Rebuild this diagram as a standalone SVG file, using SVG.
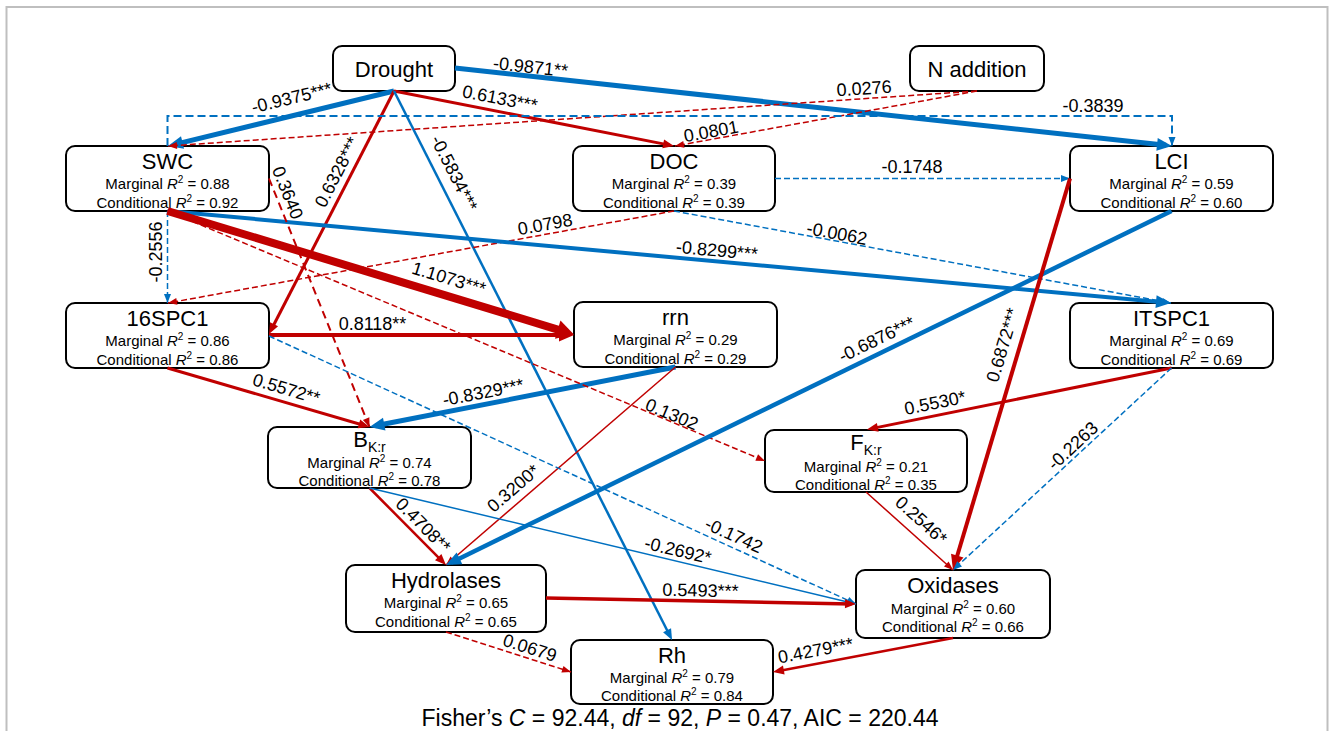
<svg xmlns="http://www.w3.org/2000/svg" width="1330" height="731" viewBox="0 0 1330 731">
<style>
text{font-family:"Liberation Sans",Arial,sans-serif;fill:#000}
.nd rect{fill:#fff;stroke:#000;stroke-width:2}
.t{font-size:22px;text-anchor:middle}
.r2{font-size:15px;text-anchor:middle}
.i{font-style:italic}
.sp{font-size:10px}
.sb{font-size:14px}
.lab{font-size:18px;text-anchor:middle}
.r{stroke:#C00000;fill:none}
.b{stroke:#0070C0;fill:none}
.d{stroke-dasharray:6 3}
</style>
<defs>
<marker id="rS" markerUnits="userSpaceOnUse" markerWidth="9" markerHeight="7" refX="9" refY="3.5" orient="auto" overflow="visible"><path d="M0,0L9,3.5L0,7z" fill="#C00000"/></marker>
<marker id="rM" markerUnits="userSpaceOnUse" markerWidth="11" markerHeight="9" refX="6.5" refY="4.5" orient="auto" overflow="visible"><path d="M0,0L11,4.5L0,9z" fill="#C00000"/></marker>
<marker id="rL" markerUnits="userSpaceOnUse" markerWidth="15" markerHeight="13" refX="9" refY="6.5" orient="auto" overflow="visible"><path d="M0,0L15,6.5L0,13z" fill="#C00000"/></marker>
<marker id="rXL" markerUnits="userSpaceOnUse" markerWidth="17" markerHeight="19" refX="9.5" refY="9.5" orient="auto" overflow="visible"><path d="M0,0L17,9.5L0,19z" fill="#C00000"/></marker>
<marker id="bS" markerUnits="userSpaceOnUse" markerWidth="9" markerHeight="7" refX="9" refY="3.5" orient="auto" overflow="visible"><path d="M0,0L9,3.5L0,7z" fill="#0070C0"/></marker>
<marker id="bM" markerUnits="userSpaceOnUse" markerWidth="11" markerHeight="9" refX="6.5" refY="4.5" orient="auto" overflow="visible"><path d="M0,0L11,4.5L0,9z" fill="#0070C0"/></marker>
<marker id="bL" markerUnits="userSpaceOnUse" markerWidth="15" markerHeight="13" refX="9" refY="6.5" orient="auto" overflow="visible"><path d="M0,0L15,6.5L0,13z" fill="#0070C0"/></marker>
</defs>
<rect x="0" y="0" width="1330" height="731" fill="#fff"/>
<rect x="6.5" y="7" width="1321" height="760" fill="none" stroke="#bfbfbf" stroke-width="2"/>

<g id="n-drought" class="nd"><rect x="333" y="46" width="122" height="45" rx="9"/><text class="t" x="394" y="77">Drought</text></g>
<g id="n-naddition" class="nd"><rect x="910" y="46" width="134" height="45" rx="9"/><text class="t" x="977" y="77">N addition</text></g>
<g id="n-swc" class="nd"><rect x="66" y="146" width="203" height="65" rx="9"/><text class="t" x="167.5" y="169">SWC</text>
<text class="r2" x="167.5" y="188.5">Marginal <tspan class="i">R</tspan><tspan class="sp" dy="-6">2</tspan><tspan dy="6"> = 0.88</tspan></text>
<text class="r2" x="167.5" y="207.5">Conditional <tspan class="i">R</tspan><tspan class="sp" dy="-6">2</tspan><tspan dy="6"> = 0.92</tspan></text></g>
<g id="n-doc" class="nd"><rect x="573" y="146" width="202" height="65" rx="9"/><text class="t" x="674" y="169">DOC</text>
<text class="r2" x="674" y="188.5">Marginal <tspan class="i">R</tspan><tspan class="sp" dy="-6">2</tspan><tspan dy="6"> = 0.39</tspan></text>
<text class="r2" x="674" y="207.5">Conditional <tspan class="i">R</tspan><tspan class="sp" dy="-6">2</tspan><tspan dy="6"> = 0.39</tspan></text></g>
<g id="n-lci" class="nd"><rect x="1070" y="146" width="203" height="65" rx="9"/><text class="t" x="1171.5" y="169">LCI</text>
<text class="r2" x="1171.5" y="188.5">Marginal <tspan class="i">R</tspan><tspan class="sp" dy="-6">2</tspan><tspan dy="6"> = 0.59</tspan></text>
<text class="r2" x="1171.5" y="207.5">Conditional <tspan class="i">R</tspan><tspan class="sp" dy="-6">2</tspan><tspan dy="6"> = 0.60</tspan></text></g>
<g id="n-16spc1" class="nd"><rect x="66" y="303" width="203" height="65" rx="9"/><text class="t" x="167.5" y="326">16SPC1</text>
<text class="r2" x="167.5" y="345.5">Marginal <tspan class="i">R</tspan><tspan class="sp" dy="-6">2</tspan><tspan dy="6"> = 0.86</tspan></text>
<text class="r2" x="167.5" y="364.5">Conditional <tspan class="i">R</tspan><tspan class="sp" dy="-6">2</tspan><tspan dy="6"> = 0.86</tspan></text></g>
<g id="n-rrn" class="nd"><rect x="574" y="302" width="203" height="65" rx="9"/><text class="t" x="675.5" y="325">rrn</text>
<text class="r2" x="675.5" y="344.5">Marginal <tspan class="i">R</tspan><tspan class="sp" dy="-6">2</tspan><tspan dy="6"> = 0.29</tspan></text>
<text class="r2" x="675.5" y="363.5">Conditional <tspan class="i">R</tspan><tspan class="sp" dy="-6">2</tspan><tspan dy="6"> = 0.29</tspan></text></g>
<g id="n-itspc1" class="nd"><rect x="1070" y="303" width="203" height="65" rx="9"/><text class="t" x="1171.5" y="326">ITSPC1</text>
<text class="r2" x="1171.5" y="345.5">Marginal <tspan class="i">R</tspan><tspan class="sp" dy="-6">2</tspan><tspan dy="6"> = 0.69</tspan></text>
<text class="r2" x="1171.5" y="364.5">Conditional <tspan class="i">R</tspan><tspan class="sp" dy="-6">2</tspan><tspan dy="6"> = 0.69</tspan></text></g>
<g id="n-bkr" class="nd"><rect x="268" y="427" width="203" height="61" rx="9"/><text class="t" x="369.5" y="447">B<tspan class="sb" dy="5">K:r</tspan></text>
<text class="r2" x="369.5" y="468">Marginal <tspan class="i">R</tspan><tspan class="sp" dy="-6">2</tspan><tspan dy="6"> = 0.74</tspan></text>
<text class="r2" x="369.5" y="486">Conditional <tspan class="i">R</tspan><tspan class="sp" dy="-6">2</tspan><tspan dy="6"> = 0.78</tspan></text></g>
<g id="n-fkr" class="nd"><rect x="765" y="430" width="202" height="62" rx="9"/><text class="t" x="866" y="450">F<tspan class="sb" dy="5">K:r</tspan></text>
<text class="r2" x="866" y="471.5">Marginal <tspan class="i">R</tspan><tspan class="sp" dy="-6">2</tspan><tspan dy="6"> = 0.21</tspan></text>
<text class="r2" x="866" y="489.5">Conditional <tspan class="i">R</tspan><tspan class="sp" dy="-6">2</tspan><tspan dy="6"> = 0.35</tspan></text></g>
<g id="n-hydrolases" class="nd"><rect x="346" y="565" width="200" height="67" rx="9"/><text class="t" x="446" y="588">Hydrolases</text>
<text class="r2" x="446" y="608">Marginal <tspan class="i">R</tspan><tspan class="sp" dy="-6">2</tspan><tspan dy="6"> = 0.65</tspan></text>
<text class="r2" x="446" y="627">Conditional <tspan class="i">R</tspan><tspan class="sp" dy="-6">2</tspan><tspan dy="6"> = 0.65</tspan></text></g>
<g id="n-oxidases" class="nd"><rect x="856" y="570" width="194" height="68" rx="9"/><text class="t" x="953" y="593">Oxidases</text>
<text class="r2" x="953" y="613.5">Marginal <tspan class="i">R</tspan><tspan class="sp" dy="-6">2</tspan><tspan dy="6"> = 0.60</tspan></text>
<text class="r2" x="953" y="632">Conditional <tspan class="i">R</tspan><tspan class="sp" dy="-6">2</tspan><tspan dy="6"> = 0.66</tspan></text></g>
<g id="n-rh" class="nd"><rect x="571" y="640" width="202" height="64" rx="9"/><text class="t" x="672" y="663">Rh</text>
<text class="r2" x="672" y="682.5">Marginal <tspan class="i">R</tspan><tspan class="sp" dy="-6">2</tspan><tspan dy="6"> = 0.79</tspan></text>
<text class="r2" x="672" y="701">Conditional <tspan class="i">R</tspan><tspan class="sp" dy="-6">2</tspan><tspan dy="6"> = 0.84</tspan></text></g>

<g id="connectors">
<path class="b" stroke-width="5" d="M394,91L173.8,144.6" marker-end="url(#bL)"/>
<text class="lab" transform="translate(291.5,97.5) rotate(-13.7)" y="6.5">-0.9375***</text>
<path class="r" stroke-width="3" d="M394,91L669.6,145.1" marker-end="url(#rM)"/>
<text class="lab" transform="translate(500,98) rotate(11.1)" y="6.5">0.6133***</text>
<path class="b" stroke-width="5" d="M455,68L1166,145.35" marker-end="url(#bL)"/>
<text class="lab" transform="translate(530.5,66.5) rotate(6.2)" y="6.5">-0.9871**</text>
<path class="r" stroke-width="3" d="M394,91L271.1,330" marker-end="url(#rM)"/>
<text class="lab" transform="translate(336.5,172) rotate(-62.8)" y="6.5">0.6328***</text>
<path class="b" stroke-width="2.5" d="M394,91L670,636" marker-end="url(#bM)"/>
<text class="lab" transform="translate(454.5,173) rotate(63.1)" y="6.5">-0.5834***</text>
<path class="r d" stroke-width="1.5" d="M977,91L168,146" marker-end="url(#rS)"/>
<text class="lab" transform="translate(864,88) rotate(-3.9)" y="6.5">0.0276</text>
<path class="r d" stroke-width="1.5" d="M977,91L675,146" marker-end="url(#rS)"/>
<text class="lab" transform="translate(711,131) rotate(-10.3)" y="6.5">0.0801</text>
<path class="b" stroke-width="2" stroke-dasharray="8 4" d="M167.5,146V116H1172V146" marker-end="url(#bS)"/>
<text class="lab" x="1093" y="112">-0.3839</text>
<path class="b d" stroke-width="1.5" d="M775,178.5L1070,178.5" marker-end="url(#bS)"/>
<text class="lab" x="912" y="173">-0.1748</text>
<path class="b d" stroke-width="1.5" d="M167.5,211L167.5,303" marker-end="url(#bS)"/>
<text class="lab" transform="translate(155,252) rotate(-90)" y="6.5">-0.2556</text>
<path class="r d" stroke-width="1.5" d="M674,211L168,303" marker-end="url(#rS)"/>
<text class="lab" transform="translate(545,224) rotate(-10.3)" y="6.5">0.0798</text>
<path class="b d" stroke-width="1.5" d="M674,211L1171,303" marker-end="url(#bS)"/>
<text class="lab" transform="translate(837,233) rotate(10.5)" y="6.5">-0.0062</text>
<path class="b" stroke-width="4" d="M167.5,211L1165,302.45" marker-end="url(#bL)"/>
<text class="lab" transform="translate(717,250) rotate(5.2)" y="6.5">-0.8299***</text>
<path class="r" stroke-width="8" d="M167.5,211L566.8,332.3" marker-end="url(#rXL)"/>
<text class="lab" transform="translate(449,278) rotate(16.9)" y="6.5">1.1073***</text>
<path class="r" stroke-width="4" d="M269,335L568,335" marker-end="url(#rL)"/>
<text class="lab" x="372.5" y="330">0.8118**</text>
<path class="r" stroke-width="2" stroke-dasharray="8 5" d="M269,178.5L369.5,427" marker-end="url(#rS)"/>
<text class="lab" transform="translate(288,192.5) rotate(68)" y="6.5">0.3640</text>
<path class="r" stroke-width="3" d="M167.5,368L365.2,425.7" marker-end="url(#rM)"/>
<text class="lab" transform="translate(286.5,388.5) rotate(16.3)" y="6.5">0.5572**</text>
<path class="b" stroke-width="5" d="M675.5,367L375.4,425.8" marker-end="url(#bL)"/>
<text class="lab" transform="translate(483,392) rotate(-11.1)" y="6.5">-0.8329***</text>
<path class="r" stroke-width="1.5" d="M675.5,367L446,565" marker-end="url(#rS)"/>
<text class="lab" transform="translate(513,488) rotate(-40.8)" y="6.5">0.3200*</text>
<path class="r d" stroke-width="1.5" d="M167.5,211L765,461" marker-end="url(#rS)"/>
<text class="lab" transform="translate(672,414) rotate(22.7)" y="6.5">0.1302</text>
<path class="b d" stroke-width="1.5" d="M269,336L856,604" marker-end="url(#bS)"/>
<text class="lab" transform="translate(734,535) rotate(24.5)" y="6.5">-0.1742</text>
<path class="r" stroke-width="2.5" d="M369.5,488L442.8,561.8" marker-end="url(#rM)"/>
<text class="lab" transform="translate(423.5,525) rotate(45.2)" y="6.5">0.4708**</text>
<path class="b" stroke-width="1.5" d="M369.5,488L856,604" marker-end="url(#bS)"/>
<text class="lab" transform="translate(678,550) rotate(13.4)" y="6.5">-0.2692*</text>
<path class="b" stroke-width="4.5" d="M1171.5,211L451.4,562.4" marker-end="url(#bL)"/>
<text class="lab" transform="translate(876.5,339) rotate(-26)" y="6.5">-0.6876***</text>
<path class="r" stroke-width="4" d="M1070,178.5L954.7,564.3" marker-end="url(#rL)"/>
<text class="lab" transform="translate(1002.5,345) rotate(-73.4)" y="6.5">0.6872***</text>
<path class="r" stroke-width="3" d="M1171.5,368L871.4,428.6" marker-end="url(#rM)"/>
<text class="lab" transform="translate(935,402.5) rotate(-11.4)" y="6.5">0.5530*</text>
<path class="b d" stroke-width="1.5" d="M1171.5,368L953,570" marker-end="url(#bS)"/>
<text class="lab" transform="translate(1072.5,445.5) rotate(-42.75)" y="6.5">-0.2263</text>
<path class="r" stroke-width="1.5" d="M866,492L953,570" marker-end="url(#rS)"/>
<text class="lab" transform="translate(921.5,520) rotate(41.9)" y="6.5">0.2546*</text>
<path class="r" stroke-width="3.5" d="M546,598L851.5,603.9" marker-end="url(#rM)"/>
<text class="lab" transform="translate(700.5,590) rotate(1.1)" y="6.5">0.5493***</text>
<path class="r d" stroke-width="1.5" d="M446,632L571,672" marker-end="url(#rS)"/>
<text class="lab" transform="translate(530,647.5) rotate(17.7)" y="6.5">0.0679</text>
<path class="r" stroke-width="2.5" d="M953,638L777.4,671.2" marker-end="url(#rM)"/>
<text class="lab" transform="translate(815.5,650) rotate(-10.7)" y="6.5">0.4279***</text>
</g>

<text x="680" y="726" font-size="23" text-anchor="middle">Fisher’s <tspan class="i">C</tspan> = 92.44, <tspan class="i">df</tspan> = 92, <tspan class="i">P</tspan> = 0.47, AIC = 220.44</text>
</svg>
